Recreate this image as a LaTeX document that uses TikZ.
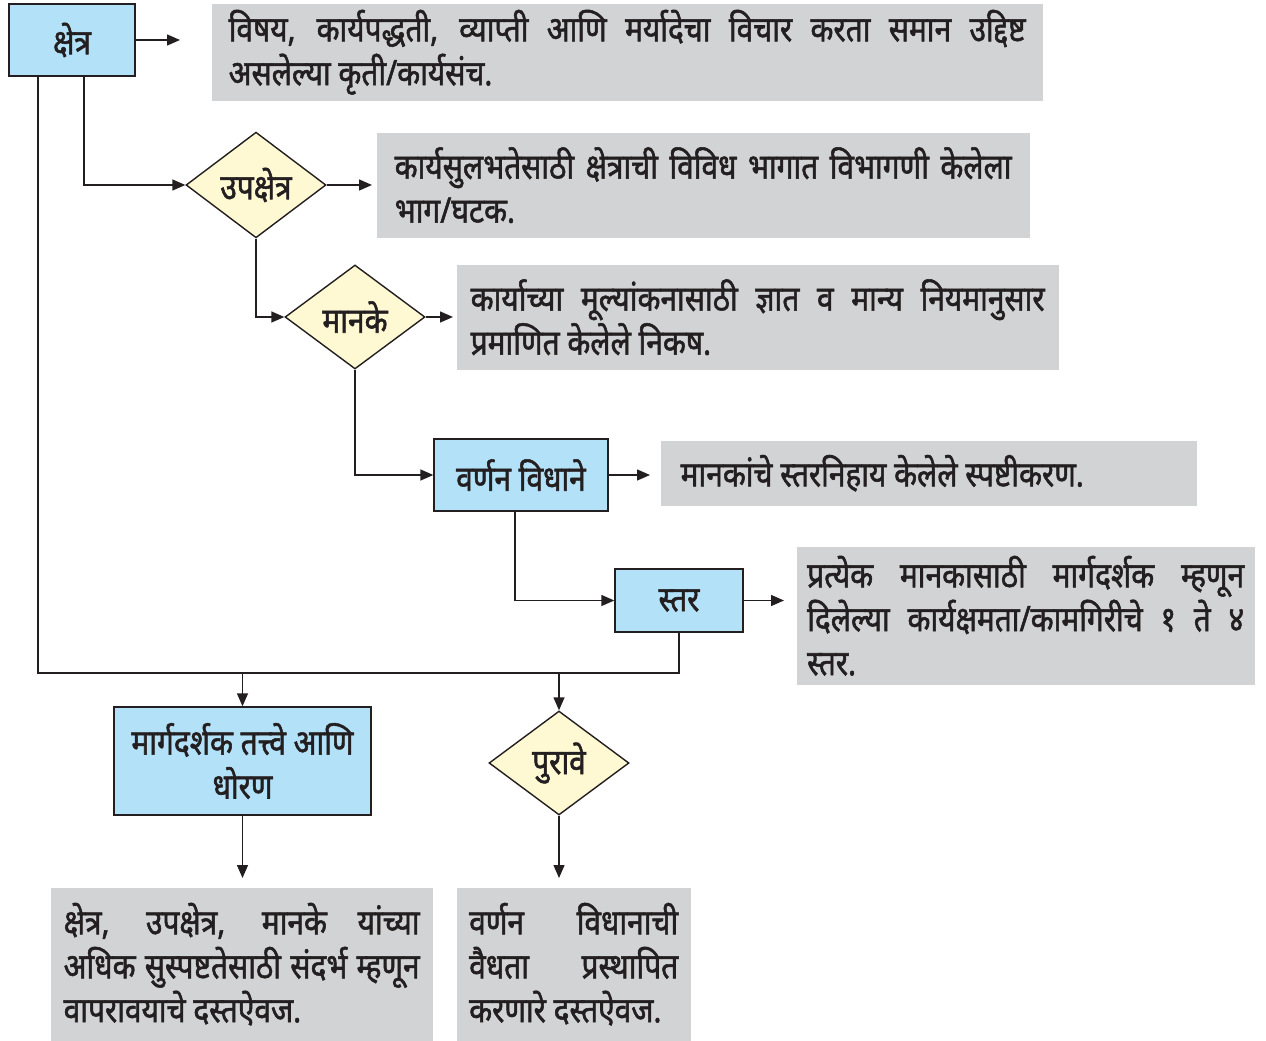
\documentclass[tikz,border=0pt]{standalone}
\usepackage{fontspec}
\newfontfamily\devfont[Script=Devanagari, FakeStretch=0.85, FakeBold=1.5]{Noto Sans}
\usetikzlibrary{shapes.geometric,arrows.meta}

\definecolor{boxblue}{HTML}{B3E1F7}
\definecolor{boxyellow}{HTML}{FFF9D3}
\definecolor{descgray}{HTML}{D1D3D4}
\definecolor{inkgray}{HTML}{231F20}

\tikzset{
	blkbox/.style={draw=inkgray, fill=boxblue, line width=0.8pt, inner sep=0pt, align=center},
	dmd/.style={diamond, draw=inkgray, fill=boxyellow, line width=0.8pt, inner sep=0pt,
		minimum width=2.8cm, minimum height=2.08cm},
	descbox/.style={fill=descgray, anchor=north west, inner ysep=0pt, align=justify},
}

\begin{document}
\begin{tikzpicture}[x=0.02cm, y=-0.02cm, line width=0.8pt, draw=inkgray,
	>={Triangle[length=0.26cm, width=0.22cm]},
	font=\devfont\fontsize{20}{25}\selectfont, text=inkgray]

	\useasboundingbox (0,0) rectangle (1266,1040);

	% main boxes
	\node[blkbox, minimum width=2.52cm, minimum height=1.44cm] (kshetra) at (72,40) {क्षेत्र};
	\node[dmd] (upa) at (256,185) {उपक्षेत्र};
	\node[dmd] (manake) at (355,317) {मानके};
	\node[blkbox, minimum width=3.48cm, minimum height=1.44cm] (varnan) at (521,475) {वर्णन विधाने};
	\node[blkbox, minimum width=2.56cm, minimum height=1.26cm] (star) at (679,600.5) {स्तर};
	\node[blkbox, minimum width=5.14cm, minimum height=2.16cm] (marg) at (242.5,761) {मार्गदर्शक तत्त्वे आणि\\धोरण};
	\node[dmd] (purave) at (559,763) {पुरावे};

	% descriptions
	\node[descbox, minimum width=16.62cm, minimum height=1.94cm, inner xsep=0.34cm, text width=15.94cm] (desc1) at (211,3)
		{विषय, कार्यपद्धती, व्याप्ती आणि मर्यादेचा विचार करता समान उद्दिष्ट\linebreak असलेल्या कृती/कार्यसंच.};
	\node[descbox, minimum width=13.06cm, minimum height=2.1cm, inner xsep=0.36cm, text width=12.34cm] (desc2) at (376,132)
		{कार्यसुलभतेसाठी क्षेत्राची विविध भागात विभागणी केलेला\linebreak भाग/घटक.};
	\node[descbox, minimum width=12.04cm, minimum height=2.1cm, inner xsep=0.28cm, text width=11.48cm] (desc3) at (456,264)
		{कार्याच्या मूल्यांकनासाठी ज्ञात व मान्य नियमानुसार\linebreak प्रमाणित केलेले निकष.};
	\node[descbox, minimum width=10.72cm, minimum height=1.3cm, inner xsep=0.4cm, text width=9.92cm] (desc4) at (660,440)
		{मानकांचे स्तरनिहाय केलेले स्पष्टीकरण.};
	\node[descbox, minimum width=9.16cm, minimum height=2.76cm, inner xsep=0.21cm, text width=8.74cm] (desc5) at (796,546)
		{प्रत्येक मानकासाठी मार्गदर्शक म्हणून\linebreak दिलेल्या कार्यक्षमता/कामगिरीचे १ ते ४\linebreak स्तर.};
	\node[descbox, minimum width=7.64cm, minimum height=3.06cm, inner xsep=0.26cm, text width=7.12cm] (desc6) at (50,887)
		{क्षेत्र, उपक्षेत्र, मानके यांच्या\linebreak अधिक सुस्पष्टतेसाठी संदर्भ म्हणून\linebreak वापरावयाचे दस्तऐवज.};
	\node[descbox, minimum width=4.68cm, minimum height=3.06cm, inner xsep=0.25cm, text width=4.18cm] (desc7) at (456,887)
		{वर्णन विधानाची\linebreak वैधता प्रस्थापित\linebreak करणारे दस्तऐवज.};

	% arrows to descriptions
	\draw[->, shorten >=0.62cm] (kshetra.east) -- (kshetra.east -| desc1.west);
	\draw[->, shorten >=0.08cm] (upa.east) -- (upa.east -| desc2.west);
	\draw[->, shorten >=0.06cm] (manake.east) -- (manake.east -| desc3.west);
	\draw[->, shorten >=0.2cm] (varnan.east) -- (varnan.east -| desc4.west);
	\draw[->, shorten >=0.24cm] (star.east) -- (star.east -| desc5.west);
	\draw[->, shorten >=0.18cm] (marg.south) -- (marg.south |- desc6.north);
	\draw[->, shorten >=0.18cm] (purave.south) -- (purave.south |- desc7.north);

	% steps down
	\draw[->] ([xshift=0.24cm]kshetra.south) |- (upa.west);
	\draw[->] (upa.south) |- (manake.west);
	\draw[->] (manake.south) |- (varnan.west);
	\draw[->] ([xshift=-0.12cm]varnan.south) |- (star.west);

	% bus line
	\coordinate (bus) at (0,673);
	\draw ([xshift=-0.68cm]kshetra.south) |- (bus -| star.south) -- (star.south);
	\draw[->] (bus -| marg.north) -- (marg.north);
	\draw[->] (bus -| purave.north) -- (purave.north);

\end{tikzpicture}
\end{document}
